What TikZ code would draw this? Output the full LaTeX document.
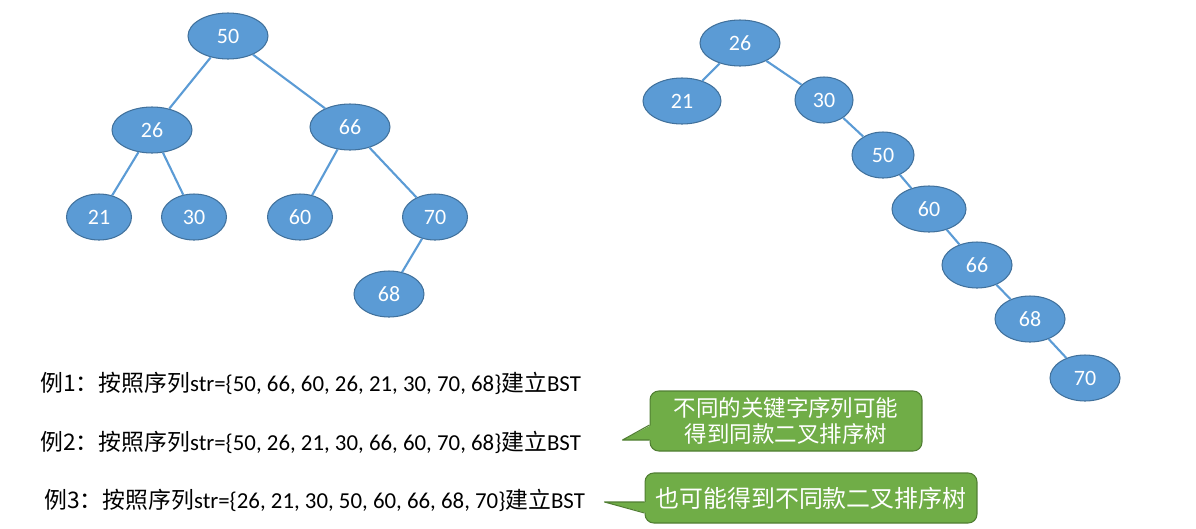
\documentclass[tikz,border=0pt]{standalone}
\usepackage{fontspec}
\setmainfont{Carlito}
\newfontfamily\cjk{Noto Sans CJK SC}
\usetikzlibrary{shapes.geometric, calc}
\definecolor{nodeBlue}{HTML}{5B9BD5}
\definecolor{nodeLine}{HTML}{41719C}
\definecolor{noteGreen}{HTML}{70AD47}
\definecolor{noteLine}{HTML}{507E32}

\begin{document}
\begin{tikzpicture}[
    x=0.02cm, y=-0.02cm,
    bst/.style={ellipse, draw=nodeLine, fill=nodeBlue, line width=0.6pt, text=white,
                minimum width=1.3cm, minimum height=0.92cm, inner sep=0pt,
                font=\fontsize{12.5}{14}\selectfont},
    wide/.style={minimum width=1.6cm},
    mid/.style={minimum width=1.4cm},
    link/.style={nodeBlue, line width=1.2pt},
    example/.style={anchor=base west, inner sep=0pt, font=\fontsize{13}{15}\selectfont},
    note/.style={rectangle, rounded corners=5pt, draw=noteLine, fill=noteGreen, text=white,
                 align=center, inner sep=0pt, line width=0.6pt,
                 font=\cjk\fontsize{12.8}{14.5}\selectfont}
  ]
    \useasboundingbox (0,0) rectangle (1196,528);

    \node[bst, wide] (a50) at (228,36) {50};
    \node[bst, wide] (a26) at (152,130) {26};
    \node[bst, wide] (a66) at (350,127) {66};
    \node[bst] (a21) at (99,217) {21};
    \node[bst] (a30) at (194,217) {30};
    \node[bst] (a60) at (300,217) {60};
    \node[bst] (a70) at (435,217) {70};
    \node[bst, mid] (a68) at (389,294) {68};
    \draw[link] (a50) -- (a26);
    \draw[link] (a50) -- (a66);
    \draw[link] (a26) -- (a21);
    \draw[link] (a26) -- (a30);
    \draw[link] (a66) -- (a60);
    \draw[link] (a66) -- (a70);
    \draw[link] (a70) -- (a68);

    \node[bst, wide] (b26) at (740,43) {26};
    \node[bst, minimum width=1.56cm] (b21) at (682,101) {21};
    \node[bst, minimum width=1.16cm] (b30) at (824,100) {30};
    \node[bst, minimum width=1.24cm] (b50) at (883,155) {50};
    \node[bst, minimum width=1.48cm] (b60) at (929,209) {60};
    \node[bst, mid] (b66) at (977,265) {66};
    \node[bst, mid] (b68) at (1030,319) {68};
    \node[bst, mid] (b70) at (1085,378) {70};
    \draw[link] (b26) -- (b21);
    \draw[link] (b26) -- (b30);
    \draw[link] (b30) -- (b50);
    \draw[link] (b50) -- (b60);
    \draw[link] (b60) -- (b66);
    \draw[link] (b66) -- (b68);
    \draw[link] (b68) -- (b70);

    \node[example] (ex1) at (40,391) {{\cjk 例1：按照序列}str=\{50, 66, 60, 26, 21, 30, 70, 68\}{\cjk 建立}BST};
    \node[example] (ex2) at (40,450) {{\cjk 例2：按照序列}str=\{50, 26, 21, 30, 66, 60, 70, 68\}{\cjk 建立}BST};
    \node[example] (ex3) at (44,508) {{\cjk 例3：按照序列}str=\{26, 21, 30, 50, 60, 66, 68, 70\}{\cjk 建立}BST};

    \node[note, minimum width=5.44cm, minimum height=1.2cm] (note1) at (786,421)
      {不同的关键字序列可能\\得到同款二叉排序树};
    \fill[noteGreen] ($(note1.west)+(2,4)$) -- ($(note1.west)+(-27,19)$) -- ($(note1.west)+(2,19)$) -- cycle;
    \draw[noteLine, line width=0.6pt, line join=round]
      ($(note1.west)+(0,4)$) -- ($(note1.west)+(-27,19)$) -- ($(note1.west)+(0,19)$);

    \node[note, minimum width=6.64cm, minimum height=1.0cm,
          font=\cjk\fontsize{13.6}{15}\selectfont] (note2) at (811,498) {也可能得到不同款二叉排序树};
    \fill[noteGreen] ($(note2.west)+(2,4)$) -- ($(note2.west)+(-40,4)$) -- ($(note2.west)+(2,15)$) -- cycle;
    \draw[noteLine, line width=0.6pt, line join=round]
      ($(note2.west)+(0,4)$) -- ($(note2.west)+(-40,4)$) -- ($(note2.west)+(0,15)$);
  \end{tikzpicture}
\end{document}
